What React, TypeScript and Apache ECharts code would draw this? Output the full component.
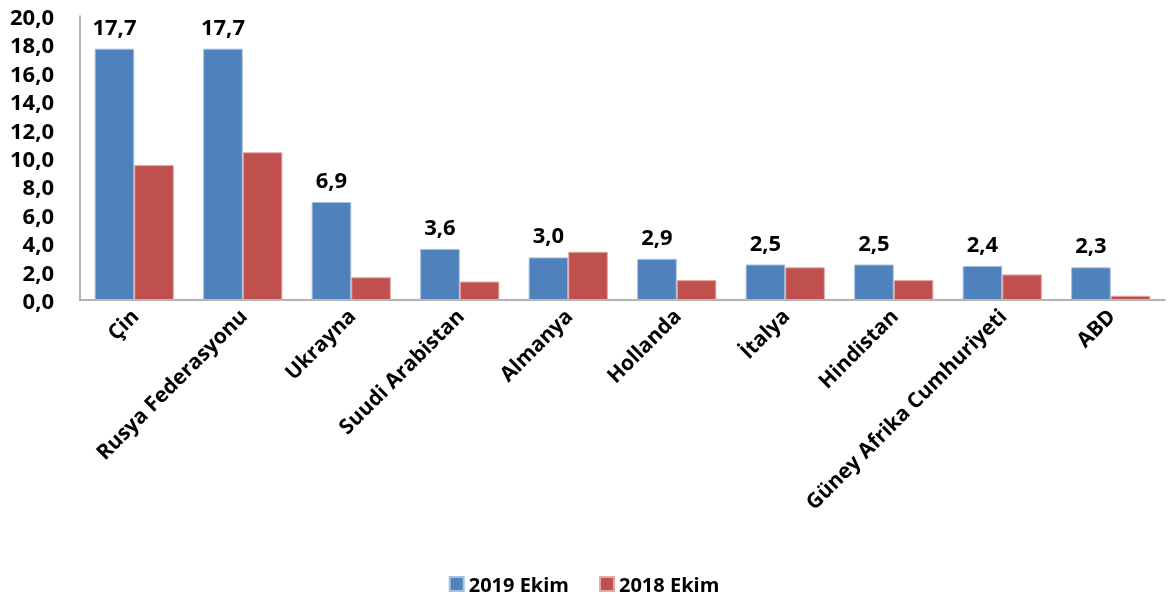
import React, { useEffect, useRef } from "react";
import * as echarts from "echarts";

const categories = [
  "Çin",
  "Rusya Federasyonu",
  "Ukrayna",
  "Suudi Arabistan",
  "Almanya",
  "Hollanda",
  "İtalya",
  "Hindistan",
  "Güney Afrika Cumhuriyeti",
  "ABD",
];
const series2019 = [17.7, 17.7, 6.9, 3.6, 3.0, 2.9, 2.5, 2.5, 2.4, 2.3];
const series2018 = [9.5, 10.4, 1.6, 1.3, 3.4, 1.4, 2.3, 1.4, 1.8, 0.3];
const seriesNames = ["2019 Ekim", "2018 Ekim"];

const FONT = "'Open Sans', 'Noto Sans', sans-serif";
const fmt = (v: number) => v.toFixed(1).replace(".", ",");

export default function App() {
  const ref = useRef<HTMLDivElement>(null);
  useEffect(() => {
    if (!ref.current) return;
    const chart = echarts.init(ref.current, undefined, { renderer: "svg" });
    chart.setOption({
      animation: false,
      textStyle: { fontFamily: FONT },
      grid: { left: 80, right: 3, top: 16, bottom: 297, containLabel: false },
      legend: {
        top: 567,
        left: "center",
        itemWidth: 14,
        itemHeight: 14,
        itemGap: 30,
        icon: "rect",
        textStyle: { fontFamily: FONT, fontWeight: "bold", fontSize: 20, lineHeight: 24, color: "#000" },
        data: seriesNames,
      },
      xAxis: {
        type: "category",
        data: categories,
        axisLine: { lineStyle: { color: "#999", width: 1.5 } },
        axisTick: { show: false },
        axisLabel: {
          rotate: 45,
          interval: 0,
          margin: 12,
          fontFamily: FONT,
          fontWeight: "bold",
          fontSize: 21,
          color: "#000",
        },
      },
      yAxis: {
        type: "value",
        min: 0,
        max: 20,
        interval: 2,
        splitLine: { show: false },
        axisLine: { show: true, lineStyle: { color: "#999", width: 1.5 } },
        axisTick: { show: false },
        axisLabel: {
          margin: 26,
          formatter: (v: number) => fmt(v),
          fontFamily: FONT,
          fontWeight: "bold",
          fontSize: 22,
          lineHeight: 22,
          color: "#000",
        },
      },
      series: [
        {
          name: seriesNames[0],
          type: "bar",
          data: series2019,
          barGap: "0%",
          barCategoryGap: "27%",
          itemStyle: { color: "#4F81BD", borderColor: "#A7C0DE", borderWidth: 1 },
          label: {
            show: true,
            position: "top",
            distance: 12,
            formatter: (p: any) => fmt(p.value),
            fontFamily: FONT,
            fontWeight: "bold",
            fontSize: 22,
            color: "#000",
          },
        },
        {
          name: seriesNames[1],
          type: "bar",
          data: series2018,
          barGap: "0%",
          barCategoryGap: "27%",
          itemStyle: { color: "#C0504D", borderColor: "#E0A8A6", borderWidth: 1 },
        },
      ],
    });
    return () => chart.dispose();
  }, []);
  return (
    <div
      ref={ref}
      style={{ position: "fixed", left: 0, top: 0, width: 1168, height: 597 }}
    />
  );
}
